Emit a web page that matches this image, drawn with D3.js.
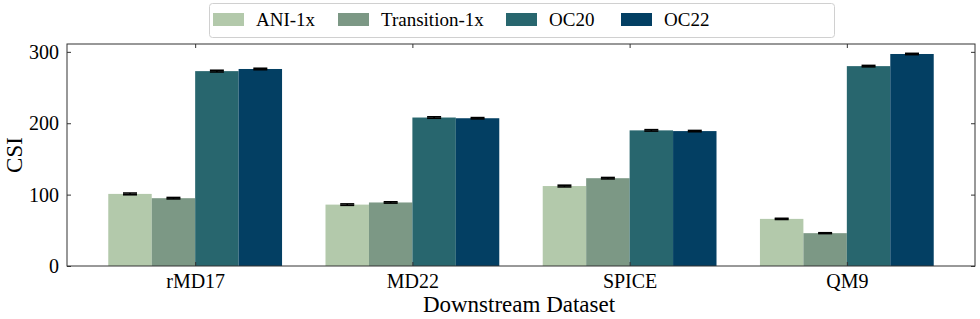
<!DOCTYPE html>
<html>
<head>
<meta charset="utf-8">
<script src="https://cdn.jsdelivr.net/npm/d3@7"></script>
<style>
  body { margin: 0; background: #fff; }
  text { font-family: "Liberation Serif", "DejaVu Serif", serif; fill: #000; }
</style>
</head>
<body>
<div id="chart"></div>
<script>
const datasets = ["rMD17", "MD22", "SPICE", "QM9"];
const models = ["ANI-1x", "Transition-1x", "OC20", "OC22"];
const colors = ["#b3c9ab", "#7c9885", "#28666e", "#033f63"];
// CSI per downstream dataset, one array per pretraining model
const ani1x = [101, 86, 112, 66];
const transition1x = [95, 89, 123, 46];
const oc20 = [273, 208, 190, 280];
const oc22 = [276, 207, 189, 297];
const errors = [
    [1.2, 1.0, 1.2, 0.8],
    [1.0, 0.9, 1.0, 0.6],
    [1.2, 1.0, 1.0, 1.0],
    [1.0, 0.9, 0.9, 0.9]
];
const yTicks = [0, 100, 200, 300];

const series = [ani1x, transition1x, oc20, oc22];

const width = 980, height = 319;
const margin = { top: 44, right: 5, bottom: 53, left: 67 };
const innerW = width - margin.left - margin.right;
const innerH = height - margin.top - margin.bottom;

const svg = d3.select("#chart").append("svg")
    .attr("width", width)
    .attr("height", height);

const g = svg.append("g")
    .attr("transform", "translate(" + margin.left + "," + margin.top + ")");

// matplotlib-like numeric x: groups at 0..3, bar width 0.2
const barW = 0.2;
const x = d3.scaleLinear().domain([-0.59, 3.59]).range([0, innerW]);
const y = d3.scaleLinear().domain([0, 311]).range([innerH, 0]);

// bars
series.forEach((vals, si) => {
    const off = (si - 1.5) * barW;
    g.append("g")
        .selectAll("rect")
        .data(vals)
        .enter().append("rect")
        .attr("x", (d, i) => x(i + off - barW / 2))
        .attr("width", x(barW) - x(0))
        .attr("y", d => y(d))
        .attr("height", d => y(0) - y(d))
        .attr("fill", colors[si]);

    // error bars
    const eb = g.append("g").attr("stroke", "#000").attr("stroke-width", 1.6);
    vals.forEach((d, i) => {
        const cx = x(i + off);
        const e = errors[si][i];
        eb.append("line")
            .attr("x1", cx).attr("x2", cx)
            .attr("y1", y(d - e)).attr("y2", y(d + e));
        [d - e, d + e].forEach(v => {
            eb.append("line")
                .attr("x1", cx - 7).attr("x2", cx + 7)
                .attr("y1", y(v)).attr("y2", y(v));
        });
    });
});

// axes with inward ticks on all sides
const axStyle = sel => {
    sel.select(".domain").remove();
    sel.selectAll(".tick line").attr("stroke", "#333");
    sel.selectAll(".tick text")
        .style("font-family", '"Liberation Serif", serif')
        .style("font-size", "20px")
        .attr("fill", "#000");
};

g.append("g")
    .call(d3.axisLeft(y).tickValues(yTicks).tickSize(-4).tickPadding(8))
    .call(axStyle);

g.append("g")
    .attr("transform", "translate(" + innerW + ",0)")
    .call(d3.axisRight(y).tickValues(yTicks).tickSize(-4).tickFormat(""))
    .call(axStyle);

g.append("g")
    .attr("transform", "translate(0," + innerH + ")")
    .call(d3.axisBottom(x).tickValues(d3.range(datasets.length)).tickSize(-4).tickPadding(8)
        .tickFormat(i => datasets[i]))
    .call(axStyle);

g.append("g")
    .call(d3.axisTop(x).tickValues(d3.range(datasets.length)).tickSize(-4).tickFormat(""))
    .call(axStyle);

// frame
g.append("rect")
    .attr("width", innerW)
    .attr("height", innerH)
    .attr("fill", "none")
    .attr("stroke", "#333")
    .attr("stroke-width", 1);

// axis labels
svg.append("text")
    .attr("transform", "translate(22," + (margin.top + innerH / 2) + ") rotate(-90)")
    .attr("text-anchor", "middle")
    .style("font-size", "23px")
    .text("CSI");

svg.append("text")
    .attr("x", margin.left + innerW / 2 - 2)
    .attr("y", 312)
    .attr("text-anchor", "middle")
    .style("font-size", "23px")
    .text("Downstream Dataset");

// legend
const legend = svg.append("g");
legend.append("rect")
    .attr("x", 209.5).attr("y", 3.5)
    .attr("width", 625).attr("height", 34)
    .attr("rx", 3)
    .attr("fill", "#fff")
    .attr("stroke", "#d0d0d0");

const legX = [213, 338, 506, 621];
models.forEach((m, i) => {
    legend.append("rect")
        .attr("x", legX[i]).attr("y", 13)
        .attr("width", 31).attr("height", 13)
        .attr("fill", colors[i]);
    legend.append("text")
        .attr("x", legX[i] + 43).attr("y", 26)
        .style("font-size", "19px")
        .text(m);
});
</script>
</body>
</html>
